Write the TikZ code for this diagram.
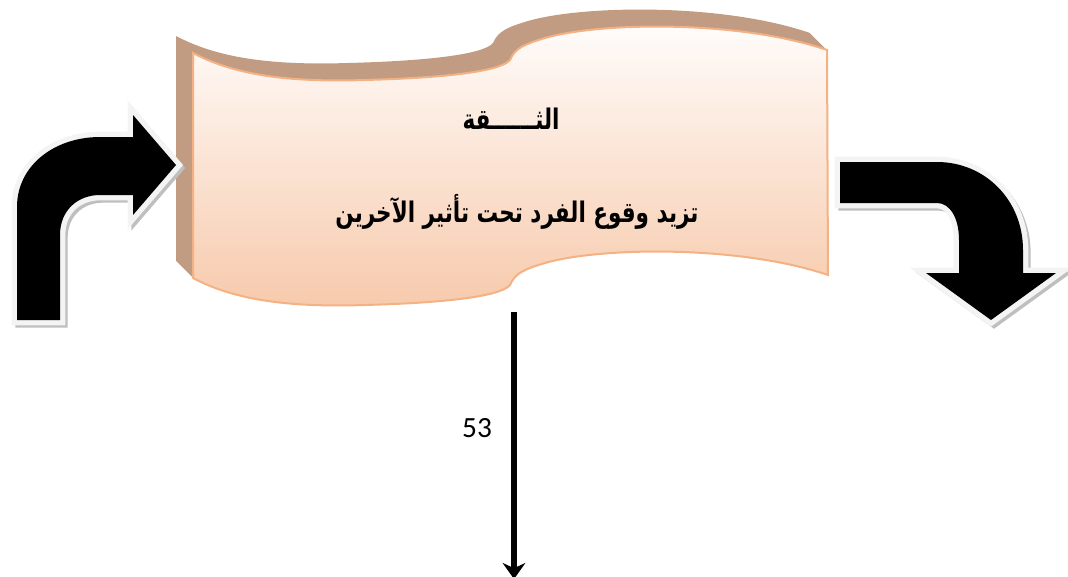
\documentclass[tikz,border=0pt]{standalone}
\usepackage{fontspec}
\usetikzlibrary{arrows.meta,positioning}
\TeXXeTstate=1
\newfontfamily\arabicfont[Script=Arabic]{DejaVu Sans}
\setsansfont{Carlito}
\definecolor{waveedge}{HTML}{F4B183}
\definecolor{wavetop}{HTML}{FFFDFC}
\definecolor{wavebottom}{HTML}{F7CAAC}
\definecolor{waveside}{HTML}{C19C82}
\newcommand{\wavepath}{(193,53) .. controls (240,78) and (300,82) .. (365,80)
  .. controls (440,78) and (500,72) .. (510,60)
  .. controls (515,48) and (525,44) .. (545,38)
  .. controls (600,22) and (740,20) .. (827,50) -- (828,275)
  .. controls (740,245) and (600,247) .. (545,263)
  .. controls (525,269) and (515,273) .. (510,285)
  .. controls (500,297) and (440,303) .. (365,305)
  .. controls (300,307) and (240,303) .. (193,278) -- cycle}
\newcommand{\leftbend}{(17,320) -- (17,207) .. controls (17,165) and (55,137) .. (100,137)
  -- (133,137) -- (133,115) -- (176,165) -- (133,215) -- (133,195) -- (100,195)
  .. controls (78,195) and (60,210) .. (60,235) -- (60,320) -- cycle}
\newcommand{\rightbend}{(840,162) -- (937,162) .. controls (985,162) and (1023,200) .. (1023,250)
  -- (1023,273) -- (1056,273) -- (991,320) -- (926,273) -- (959,273) -- (959,240)
  .. controls (959,218) and (950,203) .. (937,203) -- (840,203) -- cycle}

\begin{document}
\begin{tikzpicture}[
  x=0.75pt, y=-0.75pt,
  title/.style={font=\arabicfont\bfseries\fontsize{17pt}{20pt}\selectfont, xscale=0.95, yscale=1.25, transform shape},
  caption/.style={font=\arabicfont\bfseries\fontsize{17pt}{20pt}\selectfont, xscale=0.95, yscale=1.25, transform shape},
  number/.style={font=\sffamily\fontsize{22pt}{26pt}\selectfont},
  bendshadow/.style={fill=gray!50, draw=gray!50, line width=7pt},
  bendrim/.style={draw=gray!9, line width=8pt},
  bendbody/.style={fill=black},
  arrow/.style={-{Stealth[length=12pt, width=17pt]}, line width=4.5pt}
]
\clip (0,0) rectangle (1068,576);

\foreach \k in {1,...,17}
  \fill[waveside, shift={(-\k,-\k)}] \wavepath;
\shade[top color=wavetop, bottom color=wavebottom] \wavepath;
\draw[waveedge, line width=1.5pt] \wavepath;

\node[title] (trust) at (511,119) {\beginR الثــــــقة\endR};
\node[caption] (effect) at (517,212) {\beginR تزيد وقوع الفرد تحت تأثير الآخرين\endR};

\fill[bendshadow, shift={(3,3)}] \leftbend;
\draw[bendrim] \leftbend;
\fill[bendbody] \leftbend;

\fill[bendshadow, shift={(3,3)}] \rightbend;
\draw[bendrim] \rightbend;
\fill[bendbody] \rightbend;

\coordinate (lineTop) at (514,312);
\coordinate (lineEnd) at (514,579);
\draw[arrow] (lineTop) -- (lineEnd);
\node[number] (page) at (477,428) {53};
\end{tikzpicture}
\end{document}
